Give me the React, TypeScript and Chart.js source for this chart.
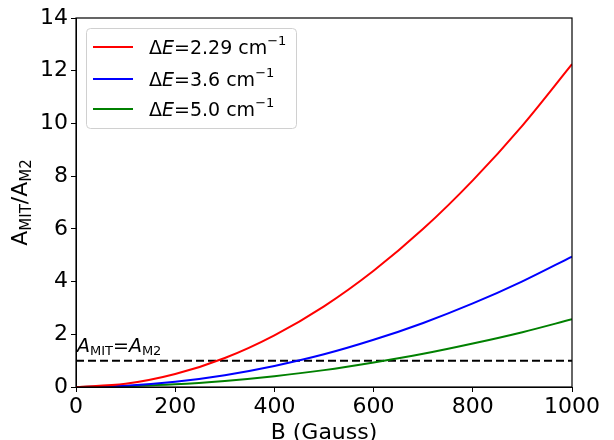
import React, { useEffect, useRef } from "react";
import { Chart, registerables } from "chart.js";

Chart.register(...registerables);

// B field (Gauss) sample points
const bGauss = [0, 100, 200, 300, 400, 500, 600, 700, 800, 900, 1000];
// A_MIT / A_M2
const ratioDE229 = [0, 0.12, 0.49, 1.1, 1.96, 3.06, 4.41, 6.0, 7.84, 9.92, 12.25];
const ratioDE36 = [0, 0.05, 0.2, 0.45, 0.8, 1.24, 1.79, 2.43, 3.17, 4.01, 4.95];
const ratioDE50 = [0, 0.03, 0.1, 0.23, 0.41, 0.64, 0.93, 1.26, 1.65, 2.08, 2.57];
// equality line A_MIT = A_M2
const equalX = [0, 1000];
const equalY = [1, 1];

const seriesLabels = ["2.29", "3.6", "5.0"];
const seriesColors = ["#ff0000", "#0000ff", "#008000"];

const FONT = "'DejaVu Sans', sans-serif";

type Run = { text: string; size: number; italic?: boolean; dy?: number };

function drawRuns(ctx: CanvasRenderingContext2D, runs: Run[], x: number, y: number, measureOnly = false) {
  let cx = x;
  for (const r of runs) {
    ctx.font = `${r.italic ? "italic " : ""}${r.size}px ${FONT}`;
    if (!measureOnly) ctx.fillText(r.text, cx, y + (r.dy || 0));
    cx += ctx.measureText(r.text).width;
  }
  return cx - x;
}

const decorations = {
  id: "decorations",
  afterDraw(chart: Chart) {
    const ctx = chart.ctx;
    const a = chart.chartArea;
    ctx.save();
    ctx.fillStyle = "#000";
    ctx.textBaseline = "alphabetic";
    ctx.textAlign = "left";

    // frame
    ctx.strokeStyle = "#000";
    ctx.lineWidth = 1.2;
    ctx.strokeRect(a.left, a.top, a.right - a.left, a.bottom - a.top);

    // x axis title
    ctx.font = `22px ${FONT}`;
    ctx.textAlign = "center";
    ctx.fillText("B (Gauss)", (a.left + a.right) / 2, 439);
    ctx.textAlign = "left";

    // y axis title
    const yRuns: Run[] = [
      { text: "A", size: 22 },
      { text: "MIT", size: 15, dy: 4 },
      { text: "/A", size: 22 },
      { text: "M2", size: 15, dy: 4 },
    ];
    const yw = drawRuns(ctx, yRuns, 0, 0, true);
    ctx.save();
    ctx.translate(27, (a.top + a.bottom) / 2);
    ctx.rotate(-Math.PI / 2);
    drawRuns(ctx, yRuns, -yw / 2, 0);
    ctx.restore();

    // annotation above dashed line
    drawRuns(
      ctx,
      [
        { text: "A", size: 19, italic: true },
        { text: "MIT", size: 13, dy: 3 },
        { text: "=", size: 19 },
        { text: "A", size: 19, italic: true },
        { text: "M2", size: 13, dy: 3 },
      ],
      a.left + 1,
      352
    );

    // legend
    ctx.beginPath();
    ctx.roundRect(86.5, 28.5, 210, 100, 4);
    ctx.fillStyle = "rgba(255,255,255,0.8)";
    ctx.fill();
    ctx.strokeStyle = "#d0d0d0";
    ctx.lineWidth = 1;
    ctx.stroke();
    const rows = [47, 79, 109];
    seriesLabels.forEach((lab, i) => {
      ctx.strokeStyle = seriesColors[i];
      ctx.lineWidth = 2;
      ctx.beginPath();
      ctx.moveTo(93, rows[i]);
      ctx.lineTo(133, rows[i]);
      ctx.stroke();
      ctx.fillStyle = "#000";
      drawRuns(
        ctx,
        [
          { text: "\u0394", size: 19 },
          { text: "E", size: 19, italic: true },
          { text: `=${lab} cm`, size: 19 },
          { text: "\u22121", size: 13, dy: -9 },
        ],
        149,
        rows[i] + 7
      );
    });
    ctx.restore();
  },
};

export default function App() {
  const canvasRef = useRef<HTMLCanvasElement>(null);

  useEffect(() => {
    document.body.style.margin = "0";
    if (!canvasRef.current) return;
    const toPts = (ys: number[], xs: number[] = bGauss) => xs.map((x, i) => ({ x, y: ys[i] }));
    const tickFont = { family: FONT, size: 22 };
    const chart = new Chart(canvasRef.current, {
      type: "line",
      data: {
        datasets: [
          { data: toPts(ratioDE229), borderColor: seriesColors[0] },
          { data: toPts(ratioDE36), borderColor: seriesColors[1] },
          { data: toPts(ratioDE50), borderColor: seriesColors[2] },
          { data: toPts(equalY, equalX), borderColor: "#000", borderDash: [8, 4] },
        ].map((d) => ({
          ...d,
          borderWidth: 2,
          pointRadius: 0,
          fill: false,
          cubicInterpolationMode: "monotone" as const,
        })),
      },
      options: {
        responsive: false,
        animation: false,
        layout: { padding: { top: 18, right: 42, left: 0, bottom: 0 } },
        plugins: { legend: { display: false }, tooltip: { enabled: false } },
        scales: {
          x: {
            type: "linear",
            min: 0,
            max: 1000,
            ticks: {
              stepSize: 200,
              font: tickFont,
              color: "#000",
              padding: 2,
              maxRotation: 0,
              callback: (v: any) => String(v),
            },
            grid: { drawOnChartArea: false, tickLength: 5, color: "#000" },
            border: { color: "#000" },
            afterFit: (s: any) => {
              s.height = 53;
            },
          },
          y: {
            min: 0,
            max: 14,
            ticks: { stepSize: 2, font: tickFont, color: "#000", padding: 3, callback: (v: any) => String(v) },
            grid: { drawOnChartArea: false, tickLength: 5, color: "#000" },
            border: { color: "#000" },
            afterFit: (s: any) => {
              s.width = 76;
            },
          },
        },
      },
      plugins: [decorations],
    });
    return () => chart.destroy();
  }, []);

  return (
    <div style={{ width: 614, height: 440, background: "#fff" }}>
      <canvas ref={canvasRef} width={614} height={440} />
    </div>
  );
}
